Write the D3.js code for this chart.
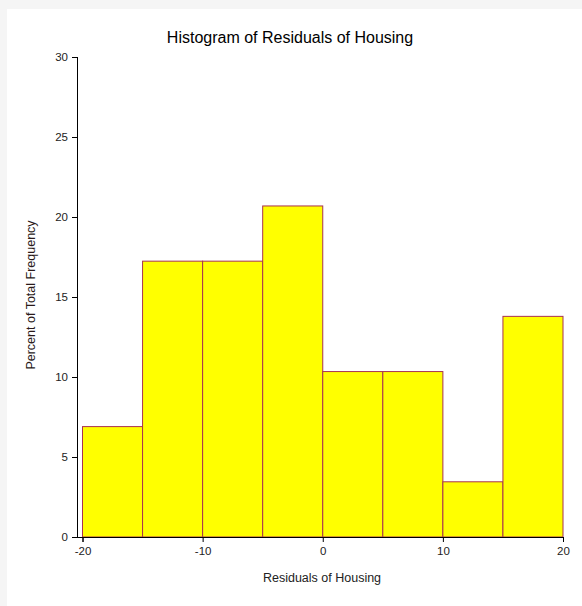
<!DOCTYPE html>
<html><head><meta charset="utf-8">
<script src="https://cdn.jsdelivr.net/npm/d3@7"></script>
<style>
html,body{margin:0;padding:0;background:#f5f5f5;}
svg{display:block;}
text{font-family:Arial,"Liberation Sans",sans-serif;}
</style></head>
<body>
<svg id="chart" width="582" height="606"></svg>
<script>
const binStarts = [-20, -15, -10, -5, 0, 5, 10, 15];
const binWidth = 5;
const percents = [6.90, 17.24, 17.24, 20.69, 10.34, 10.34, 3.45, 13.79];
const xTicks = [-20, -10, 0, 10, 20];
const yTicks = [0, 5, 10, 15, 20, 25, 30];
const titleText = "Histogram of Residuals of Housing";
const xTitle = "Residuals of Housing";
const yTitle = "Percent of Total Frequency";

const svg = d3.select("#chart");
svg.append("rect").attr("x",7).attr("y",9).attr("width",575).attr("height",597).attr("fill","#fff");

const x = d3.scaleLinear().domain([-20,20]).range([82.5,563]);
const y = d3.scaleLinear().domain([0,30]).range([537,57]);

svg.append("g").selectAll("rect").data(binStarts).join("rect")
  .attr("x", (d)=>x(d))
  .attr("y", (d,i)=>y(percents[i]))
  .attr("width", (d)=>x(d+binWidth)-x(d))
  .attr("height", (d,i)=>y(0)-y(percents[i]))
  .attr("fill","#ffff00")
  .attr("stroke","#a83250")
  .attr("stroke-width",1);

const fmt = (d)=>String(d);
const yAxis = svg.append("g").attr("transform","translate(77,0)")
  .call(d3.axisLeft(y).tickValues(yTicks).tickSize(5).tickPadding(4).tickFormat(fmt));
const xAxis = svg.append("g").attr("transform","translate(0,537)")
  .call(d3.axisBottom(x).tickValues(xTicks).tickSize(5).tickPadding(5).tickFormat(fmt));
svg.append("line").attr("x1",72).attr("x2",563).attr("y1",537.5).attr("y2",537.5).attr("stroke","#000");
[yAxis,xAxis].forEach(a=>{
  a.select(".domain").attr("stroke","#000");
  a.selectAll(".tick line").attr("stroke","#000");
  a.selectAll("text").attr("font-size",11.5).attr("fill","#222").attr("font-family","Arial,'Liberation Sans',sans-serif");
});
yAxis.select(".domain").attr("d","M0.5,57V537.5");

svg.append("text").attr("x",290).attr("y",43).attr("text-anchor","middle")
  .attr("font-size",16).attr("fill","#000").text(titleText);
svg.append("text").attr("x",322).attr("y",582).attr("text-anchor","middle")
  .attr("font-size",12.5).attr("fill","#222").text(xTitle);
svg.append("text").attr("transform","translate(35,295) rotate(-90)").attr("text-anchor","middle")
  .attr("font-size",12.5).attr("fill","#2a1a1a").text(yTitle);
</script>
</body></html>
